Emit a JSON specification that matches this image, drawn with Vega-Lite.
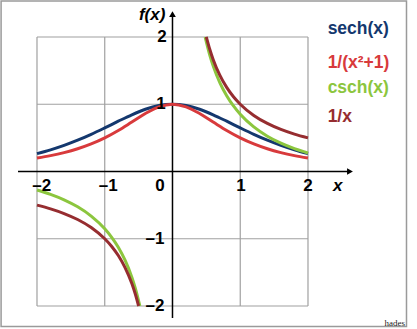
{
  "$schema": "https://vega.github.io/schema/vega-lite/v6.json",
  "width": 417,
  "height": 329,
  "autosize": {"type": "fit", "contains": "padding"},
  "padding": 0,
  "background": "white",
  "config": {"view": {"stroke": null}},
  "datasets": {
    "curves": [
      {"fn": "sech", "b": "a", "x": -2.0, "y": 0.2658},
      {"fn": "sech", "b": "a", "x": -1.8, "y": 0.3218},
      {"fn": "sech", "b": "a", "x": -1.6, "y": 0.3880},
      {"fn": "sech", "b": "a", "x": -1.4, "y": 0.4649},
      {"fn": "sech", "b": "a", "x": -1.2, "y": 0.5523},
      {"fn": "sech", "b": "a", "x": -1.0, "y": 0.6481},
      {"fn": "sech", "b": "a", "x": -0.8, "y": 0.7477},
      {"fn": "sech", "b": "a", "x": -0.6, "y": 0.8436},
      {"fn": "sech", "b": "a", "x": -0.4, "y": 0.9250},
      {"fn": "sech", "b": "a", "x": -0.2, "y": 0.9803},
      {"fn": "sech", "b": "a", "x": 0.0, "y": 1.0},
      {"fn": "sech", "b": "a", "x": 0.2, "y": 0.9803},
      {"fn": "sech", "b": "a", "x": 0.4, "y": 0.9250},
      {"fn": "sech", "b": "a", "x": 0.6, "y": 0.8436},
      {"fn": "sech", "b": "a", "x": 0.8, "y": 0.7477},
      {"fn": "sech", "b": "a", "x": 1.0, "y": 0.6481},
      {"fn": "sech", "b": "a", "x": 1.2, "y": 0.5523},
      {"fn": "sech", "b": "a", "x": 1.4, "y": 0.4649},
      {"fn": "sech", "b": "a", "x": 1.6, "y": 0.3880},
      {"fn": "sech", "b": "a", "x": 1.8, "y": 0.3218},
      {"fn": "sech", "b": "a", "x": 2.0, "y": 0.2658},
      {"fn": "rat", "b": "a", "x": -2.0, "y": 0.2},
      {"fn": "rat", "b": "a", "x": -1.8, "y": 0.2358},
      {"fn": "rat", "b": "a", "x": -1.6, "y": 0.2809},
      {"fn": "rat", "b": "a", "x": -1.4, "y": 0.3378},
      {"fn": "rat", "b": "a", "x": -1.2, "y": 0.4098},
      {"fn": "rat", "b": "a", "x": -1.0, "y": 0.5},
      {"fn": "rat", "b": "a", "x": -0.8, "y": 0.6098},
      {"fn": "rat", "b": "a", "x": -0.6, "y": 0.7353},
      {"fn": "rat", "b": "a", "x": -0.4, "y": 0.8621},
      {"fn": "rat", "b": "a", "x": -0.2, "y": 0.9615},
      {"fn": "rat", "b": "a", "x": 0.0, "y": 1.0},
      {"fn": "rat", "b": "a", "x": 0.2, "y": 0.9615},
      {"fn": "rat", "b": "a", "x": 0.4, "y": 0.8621},
      {"fn": "rat", "b": "a", "x": 0.6, "y": 0.7353},
      {"fn": "rat", "b": "a", "x": 0.8, "y": 0.6098},
      {"fn": "rat", "b": "a", "x": 1.0, "y": 0.5},
      {"fn": "rat", "b": "a", "x": 1.2, "y": 0.4098},
      {"fn": "rat", "b": "a", "x": 1.4, "y": 0.3378},
      {"fn": "rat", "b": "a", "x": 1.6, "y": 0.2809},
      {"fn": "rat", "b": "a", "x": 1.8, "y": 0.2358},
      {"fn": "rat", "b": "a", "x": 2.0, "y": 0.2},
      {"fn": "csch", "b": "p", "x": 0.4812, "y": 2.0},
      {"fn": "csch", "b": "p", "x": 0.55, "y": 1.7295},
      {"fn": "csch", "b": "p", "x": 0.6, "y": 1.5707},
      {"fn": "csch", "b": "p", "x": 0.7, "y": 1.3182},
      {"fn": "csch", "b": "p", "x": 0.8, "y": 1.1260},
      {"fn": "csch", "b": "p", "x": 0.9, "y": 0.9742},
      {"fn": "csch", "b": "p", "x": 1.0, "y": 0.8509},
      {"fn": "csch", "b": "p", "x": 1.2, "y": 0.6625},
      {"fn": "csch", "b": "p", "x": 1.4, "y": 0.5251},
      {"fn": "csch", "b": "p", "x": 1.6, "y": 0.4210},
      {"fn": "csch", "b": "p", "x": 1.8, "y": 0.3399},
      {"fn": "csch", "b": "p", "x": 2.0, "y": 0.2757},
      {"fn": "csch", "b": "n", "x": -2.0, "y": -0.2757},
      {"fn": "csch", "b": "n", "x": -1.8, "y": -0.3399},
      {"fn": "csch", "b": "n", "x": -1.6, "y": -0.4210},
      {"fn": "csch", "b": "n", "x": -1.4, "y": -0.5251},
      {"fn": "csch", "b": "n", "x": -1.2, "y": -0.6625},
      {"fn": "csch", "b": "n", "x": -1.0, "y": -0.8509},
      {"fn": "csch", "b": "n", "x": -0.9, "y": -0.9742},
      {"fn": "csch", "b": "n", "x": -0.8, "y": -1.1260},
      {"fn": "csch", "b": "n", "x": -0.7, "y": -1.3182},
      {"fn": "csch", "b": "n", "x": -0.6, "y": -1.5707},
      {"fn": "csch", "b": "n", "x": -0.55, "y": -1.7295},
      {"fn": "csch", "b": "n", "x": -0.4812, "y": -2.0},
      {"fn": "inv", "b": "p", "x": 0.5, "y": 2.0},
      {"fn": "inv", "b": "p", "x": 0.55, "y": 1.8182},
      {"fn": "inv", "b": "p", "x": 0.6, "y": 1.6667},
      {"fn": "inv", "b": "p", "x": 0.7, "y": 1.4286},
      {"fn": "inv", "b": "p", "x": 0.8, "y": 1.25},
      {"fn": "inv", "b": "p", "x": 0.9, "y": 1.1111},
      {"fn": "inv", "b": "p", "x": 1.0, "y": 1.0},
      {"fn": "inv", "b": "p", "x": 1.2, "y": 0.8333},
      {"fn": "inv", "b": "p", "x": 1.4, "y": 0.7143},
      {"fn": "inv", "b": "p", "x": 1.6, "y": 0.625},
      {"fn": "inv", "b": "p", "x": 1.8, "y": 0.5556},
      {"fn": "inv", "b": "p", "x": 2.0, "y": 0.5},
      {"fn": "inv", "b": "n", "x": -2.0, "y": -0.5},
      {"fn": "inv", "b": "n", "x": -1.8, "y": -0.5556},
      {"fn": "inv", "b": "n", "x": -1.6, "y": -0.625},
      {"fn": "inv", "b": "n", "x": -1.4, "y": -0.7143},
      {"fn": "inv", "b": "n", "x": -1.2, "y": -0.8333},
      {"fn": "inv", "b": "n", "x": -1.0, "y": -1.0},
      {"fn": "inv", "b": "n", "x": -0.9, "y": -1.1111},
      {"fn": "inv", "b": "n", "x": -0.8, "y": -1.25},
      {"fn": "inv", "b": "n", "x": -0.7, "y": -1.4286},
      {"fn": "inv", "b": "n", "x": -0.6, "y": -1.6667},
      {"fn": "inv", "b": "n", "x": -0.55, "y": -1.8182},
      {"fn": "inv", "b": "n", "x": -0.5, "y": -2.0}
    ],
    "grid": [
      {"x": -2, "x2": -2, "y": -2, "y2": 2},
      {"x": -1, "x2": -1, "y": -2, "y2": 2},
      {"x": 1, "x2": 1, "y": -2, "y2": 2},
      {"x": 2, "x2": 2, "y": -2, "y2": 2},
      {"x": -2, "x2": 2, "y": -2, "y2": -2},
      {"x": -2, "x2": 2, "y": -1, "y2": -1},
      {"x": -2, "x2": 2, "y": 1, "y2": 1},
      {"x": -2, "x2": 2, "y": 2, "y2": 2}
    ],
    "axes": [
      {"x": -2.28, "x2": 2.62, "y": 0, "y2": 0},
      {"x": 0, "x2": 0, "y": -2.18, "y2": 2.33}
    ],
    "arrows": [
      {"x": 2.62, "y": 0, "shape": "triangle-right"},
      {"x": 0, "y": 2.34, "shape": "triangle-up"}
    ],
    "ticks": [
      {"t": "–2", "x": -1.93, "y": -0.216},
      {"t": "–1", "x": -0.95, "y": -0.216},
      {"t": "0", "x": -0.185, "y": -0.216},
      {"t": "1", "x": 1.01, "y": -0.216},
      {"t": "2", "x": 2.0, "y": -0.216},
      {"t": "2", "x": -0.155, "y": 2.0},
      {"t": "1", "x": -0.17, "y": 1.0},
      {"t": "–1", "x": -0.26, "y": -1.0},
      {"t": "–2", "x": -0.26, "y": -2.0}
    ],
    "italics": [
      {"t": "x", "x": 2.44, "y": -0.216},
      {"t": "f(x)", "x": -0.3, "y": 2.327}
    ],
    "legend": [
      {"fn": "sech", "t": "sech(x)", "x": 2.29, "y": 2.12},
      {"fn": "rat", "t": "1/(x²+1)", "x": 2.29, "y": 1.61},
      {"fn": "csch", "t": "csch(x)", "x": 2.29, "y": 1.24},
      {"fn": "inv", "t": "1/x", "x": 2.29, "y": 0.81}
    ]
  },
  "encoding": {
    "x": {"type": "quantitative", "scale": {"domain": [-2.546, 3.609], "nice": false, "zero": false}, "axis": null},
    "y": {"type": "quantitative", "scale": {"domain": [-2.342, 2.55], "nice": false, "zero": false}, "axis": null}
  },
  "layer": [
    {
      "data": {"values": [{"x": -2.53, "x2": 3.454, "y": 2.535, "y2": -2.305}]},
      "mark": {"type": "rect", "fill": null, "stroke": "#9a9a9a", "strokeWidth": 1.5},
      "encoding": {"x": {"field": "x", "type": "quantitative"}, "x2": {"field": "x2"}, "y": {"field": "y", "type": "quantitative"}, "y2": {"field": "y2"}}
    },
    {
      "data": {"name": "grid"},
      "mark": {"type": "rule", "stroke": "#a0a0a0", "strokeWidth": 1.2},
      "encoding": {"x": {"field": "x", "type": "quantitative"}, "x2": {"field": "x2"}, "y": {"field": "y", "type": "quantitative"}, "y2": {"field": "y2"}}
    },
    {
      "data": {"name": "axes"},
      "mark": {"type": "rule", "stroke": "black", "strokeWidth": 1.5},
      "encoding": {"x": {"field": "x", "type": "quantitative"}, "x2": {"field": "x2"}, "y": {"field": "y", "type": "quantitative"}, "y2": {"field": "y2"}}
    },
    {
      "data": {"name": "arrows"},
      "mark": {"type": "point", "filled": true, "color": "black", "size": 45, "opacity": 1},
      "encoding": {"x": {"field": "x", "type": "quantitative"}, "y": {"field": "y", "type": "quantitative"}, "shape": {"field": "shape", "type": "nominal", "scale": null}}
    },
    {
      "data": {"name": "curves"},
      "mark": {"type": "line", "strokeWidth": 3, "interpolate": "monotone", "clip": true},
      "encoding": {
        "x": {"field": "x", "type": "quantitative"},
        "y": {"field": "y", "type": "quantitative"},
        "color": {"field": "fn", "type": "nominal", "legend": null, "scale": {"domain": ["sech", "rat", "csch", "inv"], "range": ["#14386e", "#d83a3c", "#8cc63e", "#962d30"]}},
        "detail": {"field": "b"},
        "order": {"field": "x", "type": "quantitative"}
      }
    },
    {
      "data": {"name": "ticks"},
      "mark": {"type": "text", "font": "Liberation Sans", "fontWeight": "bold", "fontSize": 17, "color": "black", "align": "center", "baseline": "middle"},
      "encoding": {"x": {"field": "x", "type": "quantitative"}, "y": {"field": "y", "type": "quantitative"}, "text": {"field": "t"}}
    },
    {
      "data": {"name": "italics"},
      "mark": {"type": "text", "font": "Liberation Sans", "fontWeight": "bold", "fontStyle": "italic", "fontSize": 17, "color": "black", "align": "center", "baseline": "middle"},
      "encoding": {"x": {"field": "x", "type": "quantitative"}, "y": {"field": "y", "type": "quantitative"}, "text": {"field": "t"}}
    },
    {
      "data": {"name": "legend"},
      "mark": {"type": "text", "font": "Liberation Sans", "fontWeight": "bold", "fontSize": 17.5, "align": "left", "baseline": "middle"},
      "encoding": {
        "x": {"field": "x", "type": "quantitative"},
        "y": {"field": "y", "type": "quantitative"},
        "text": {"field": "t"},
        "color": {"field": "fn", "type": "nominal", "legend": null}
      }
    },
    {
      "data": {"values": [{"t": "hades", "x": 3.28, "y": -2.26}]},
      "mark": {"type": "text", "font": "Liberation Sans Narrow", "fontSize": 9, "color": "#222", "align": "center", "baseline": "middle"},
      "encoding": {"x": {"field": "x", "type": "quantitative"}, "y": {"field": "y", "type": "quantitative"}, "text": {"field": "t"}}
    }
  ]
}
